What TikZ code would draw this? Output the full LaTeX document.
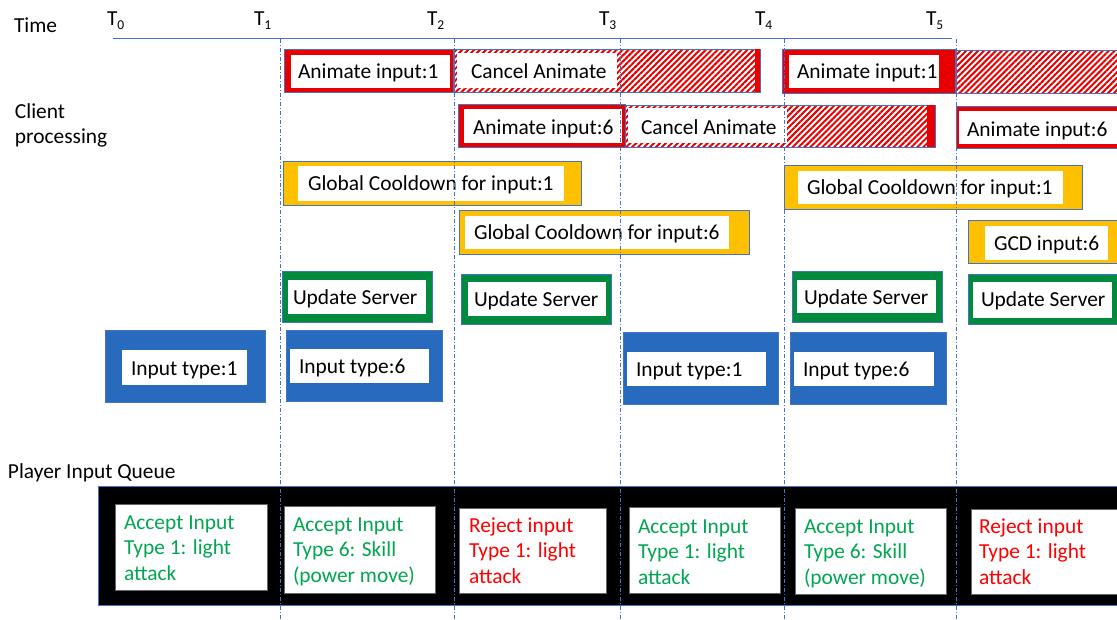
\documentclass[tikz,border=0pt]{standalone}
\usepackage{fontspec}
\setmainfont{Carlito}
\usetikzlibrary{patterns.meta}

\definecolor{animred}{RGB}{232,0,0}
\definecolor{amber}{RGB}{255,192,0}
\definecolor{srvgreen}{RGB}{0,138,62}
\definecolor{inblue}{RGB}{40,106,190}
\definecolor{edgeblue}{RGB}{68,114,196}
\definecolor{okgreen}{RGB}{0,166,81}
\definecolor{badred}{RGB}{255,0,0}

% outer coloured bar with a white panel inside:
% #1 style, #2-#5 outer corners, #6-#9 panel corners
\newcommand\framedbar[9]{%
  \path[#1] (#2,#3) rectangle (#4,#5);
  \fill[white] (#6,#7) rectangle (#8,#9);}

\tikzset{
  every node/.style={inner sep=0pt, outer sep=0pt},
  txt/.style={anchor=base west, font=\fontsize{21.4}{25.5}\selectfont},
  rim/.style={draw=edgeblue, line width=0.7pt},
  animbar/.style={fill=animred, rim},
  cdbar/.style={fill=amber, rim},
  srvbar/.style={fill=srvgreen, rim},
  inbar/.style={fill=inblue, rim},
  hatchbar/.style={pattern={Lines[angle=45,distance=4.2pt,line width=2pt]},
                   pattern color=animred, rim},
  slot/.style={fill=white, draw=black!60, line width=0.6pt},
  tick/.style={draw=edgeblue, line width=0.7pt,
               dash pattern=on 4pt off 2pt on 1pt off 2pt},
}

\newcommand\tlabel[1]{T\raisebox{-4pt}{\fontsize{13.5}{13.5}\selectfont #1}}

\begin{document}
\begin{tikzpicture}[x=1pt,y=-1pt]
\useasboundingbox (0,0) rectangle (1117,619);
\fill[white] (0,0) rectangle (1117,619);
\clip (0,0) rectangle (1117,619);

% ---- time axis ----
\node[txt] (time) at (14,32) {Time};
\node[txt] (t0) at (107,25) {\tlabel{0}};
\node[txt] (t1) at (254,25) {\tlabel{1}};
\node[txt] (t2) at (427,25) {\tlabel{2}};
\node[txt] (t3) at (599,25) {\tlabel{3}};
\node[txt] (t4) at (755,25) {\tlabel{4}};
\node[txt] (t5) at (926,25) {\tlabel{5}};
\coordinate (axisL) at (113,38);
\coordinate (axisR) at (952,38);
\draw[edgeblue, line width=0.7pt] (axisL) -- (axisR);

% ---- row labels ----
\node[txt] (client) at (15,118) {Client};
\node[txt] (proc) at (15,143) {processing};
\node[txt] (queue) at (8,478) {Player Input Queue};

% ---- animation row 1 ----
\framedbar{animbar}{284}{49}{453}{92}{291}{55}{450}{88}
\node[txt] (an1) at (298,78) {Animate input:1};
\path[hatchbar] (454,49) rectangle (760,92);
\fill[white] (457,53) rectangle (617,88);
\fill[animred] (755,49) rectangle (760,92);
\node[txt] (ca1) at (471,78) {Cancel Animate};
\framedbar{animbar}{782}{49}{955}{93}{789}{55}{939}{88}
\node[txt] (an2) at (797,78) {Animate input:1};
\path[hatchbar] (956,50) rectangle (1125,93);

% ---- animation row 2 ----
\framedbar{animbar}{458}{104}{625}{147}{464}{109}{622}{143}
\node[txt] (an3) at (473,134) {Animate input:6};
\path[hatchbar] (625,105) rectangle (935,147);
\fill[white] (628,108) rectangle (787,143);
\fill[animred] (927,105) rectangle (935,147);
\node[txt] (ca2) at (641,134) {Cancel Animate};
\framedbar{animbar}{956}{106}{1125}{148}{959}{111}{1125}{144}
\node[txt] (an4) at (967,136) {Animate input:6};

% ---- global cooldowns ----
\framedbar{cdbar}{283}{161}{581}{205}{298}{166}{564}{201}
\node[txt] (gc1) at (308,190) {Global Cooldown for input:1};
\framedbar{cdbar}{784}{165}{1082}{209}{798}{171}{1063}{204}
\node[txt] (gc2) at (807,194) {Global Cooldown for input:1};
\framedbar{cdbar}{459}{210}{749}{254}{465}{216}{729}{249}
\node[txt] (gc3) at (474,239) {Global Cooldown for input:6};
\framedbar{cdbar}{968}{220}{1125}{263}{985}{226}{1108}{260}
\node[txt] (gc4) at (994,250) {GCD input:6};

% ---- server updates ----
\framedbar{srvbar}{282}{271}{432}{322}{288}{280}{426}{314}
\node[txt] (us1) at (293,304) {Update Server};
\framedbar{srvbar}{461}{274}{611}{324}{468}{282}{606}{316}
\node[txt] (us2) at (474,306) {Update Server};
\framedbar{srvbar}{792}{271}{942}{322}{797}{280}{936}{313}
\node[txt] (us3) at (804,304) {Update Server};
\framedbar{srvbar}{968}{274}{1125}{324}{973}{282}{1112}{318}
\node[txt] (us4) at (981,306) {Update Server};

% ---- inputs ----
\framedbar{inbar}{105}{330}{265}{402}{122}{350}{247}{385}
\node[txt] (in1) at (131,375) {Input type:1};
\framedbar{inbar}{286}{330}{442}{401}{290}{349}{429}{383}
\node[txt] (in2) at (299,373) {Input type:6};
\framedbar{inbar}{623}{332}{778}{404}{627}{352}{766}{386}
\node[txt] (in3) at (636,376) {Input type:1};
\framedbar{inbar}{790}{332}{946}{404}{794}{352}{934}{386}
\node[txt] (in4) at (803,376) {Input type:6};

% ---- player input queue ----
\path[fill=black, rim] (98,486) rectangle (1125,605);
\path[slot] (115,504) rectangle (267,590);
\path[slot] (284,506) rectangle (435,593);
\path[slot] (459,508) rectangle (606,593);
\path[slot] (629,507) rectangle (780,593);
\path[slot] (795,508) rectangle (946,594);
\path[slot] (971,509) rectangle (1125,594);
\node[txt, text=okgreen] (q1) at (124,529)
  {\begin{tabular}[t]{@{}l@{}}Accept Input\\Type 1: light\\attack\end{tabular}};
\node[txt, text=okgreen] (q2) at (293,531)
  {\begin{tabular}[t]{@{}l@{}}Accept Input\\Type 6: Skill\\(power move)\end{tabular}};
\node[txt, text=badred] (q3) at (469,532)
  {\begin{tabular}[t]{@{}l@{}}Reject input\\Type 1: light\\attack\end{tabular}};
\node[txt, text=okgreen] (q4) at (638,533)
  {\begin{tabular}[t]{@{}l@{}}Accept Input\\Type 1: light\\attack\end{tabular}};
\node[txt, text=okgreen] (q5) at (804,533)
  {\begin{tabular}[t]{@{}l@{}}Accept Input\\Type 6: Skill\\(power move)\end{tabular}};
\node[txt, text=badred] (q6) at (979,533)
  {\begin{tabular}[t]{@{}l@{}}Reject input\\Type 1: light\\attack\end{tabular}};

% ---- time markers ----
\foreach \i/\x in {1/280,2/454,3/620,4/784,5/956}{
  \coordinate (m\i top) at (\x,39);
  \coordinate (m\i bot) at (\x,619);
  \draw[tick] (m\i top) -- (m\i bot);
}
\end{tikzpicture}
\end{document}
